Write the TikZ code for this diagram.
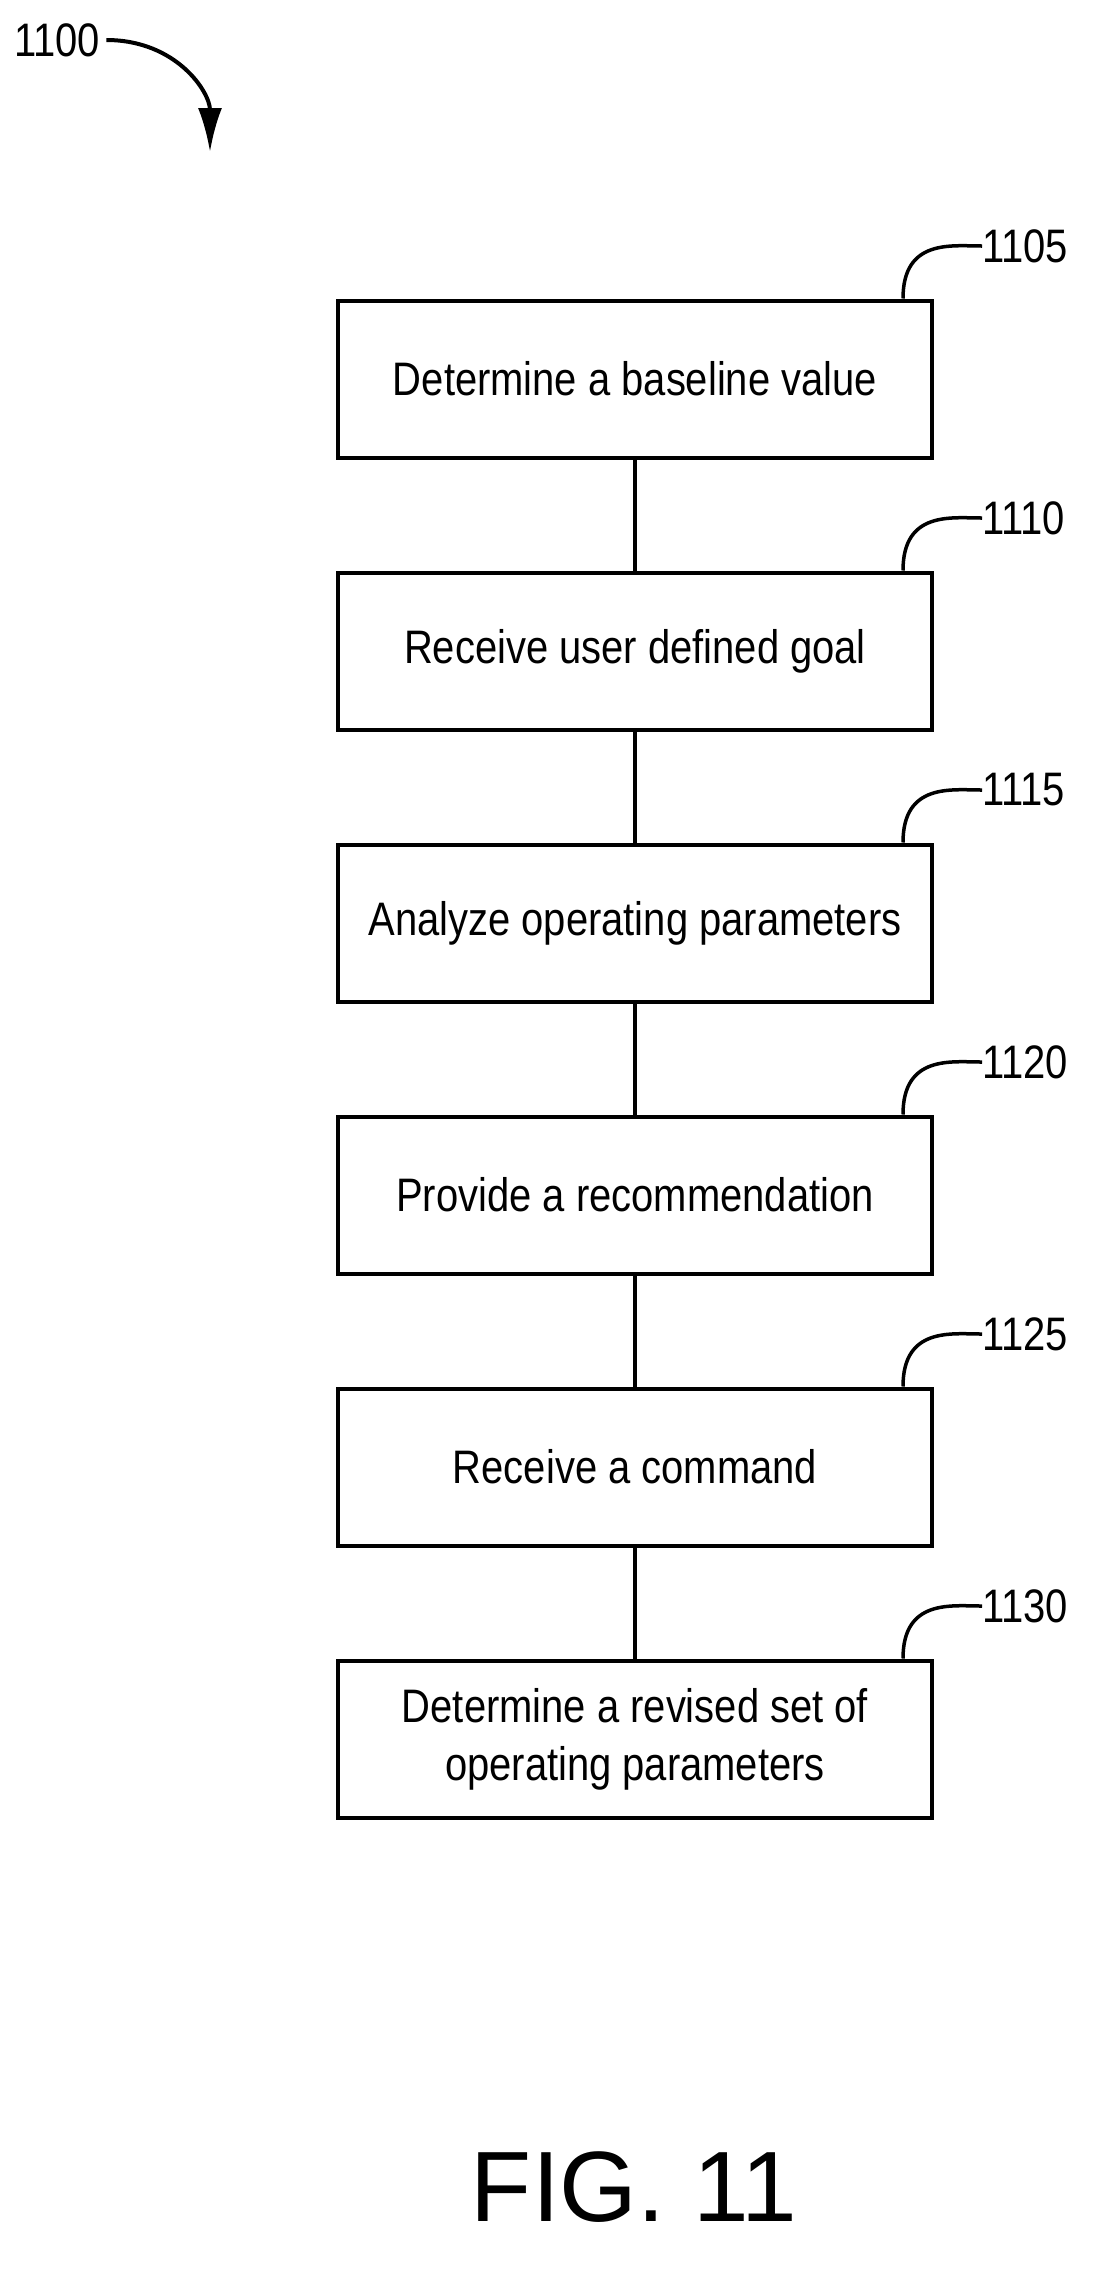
\documentclass[tikz,border=0pt]{standalone}
\usepackage{fontspec}
\usetikzlibrary{arrows.meta}
\setmainfont{Liberation Sans}
\newfontfamily\nar[FakeStretch=0.85]{Liberation Sans}
\begin{document}
\begin{tikzpicture}[x=1pt,y=-1pt,
  box/.style={draw,line width=4pt,minimum width=594pt,minimum height=157pt,align=center,font=\nar\fontsize{47}{58}\selectfont,inner sep=0pt},
  lab/.style={font=\nar\fontsize{47}{50}\selectfont,inner sep=0pt},
  lead/.style={line width=3.5pt}]
\useasboundingbox (0,0) rectangle (1102,2271);
\foreach \i/\n/\t in {0/1105/Determine a baseline value,1/1110/Receive user defined goal,2/1115/Analyze operating parameters,3/1120/Provide a recommendation,4/1125/Receive a command,5/1130/{Determine a revised set of\\operating parameters}}{
  \node[box] (b\i) at (635,{379+272*\i}) {\t};
  \node[lab,anchor=west] (l\i) at (982,{246+272*\i}) {\n};
  \draw[lead] ([xshift=567pt]b\i.north west) .. controls +(0,-60) and +(-30,0) .. (l\i.west);
}
\foreach \i [evaluate=\i as \j using int(\i+1)] in {0,...,4}{\draw[line width=4pt] (b\i.south) -- (b\j.north);}
\node[lab,anchor=west] (l) at (14,40) {1100};
\coordinate (ah) at (210,152);
\draw[line width=4pt,-{Latex[length=44pt,width=24pt]}] ([xshift=6pt]l.east) .. controls +(70,0) and +(0,-60) .. (ah);
\node[font=\fontsize{100}{104}\selectfont,inner sep=0pt] (fig) at (634,2187) {FIG. 11};
\end{tikzpicture}
\end{document}
